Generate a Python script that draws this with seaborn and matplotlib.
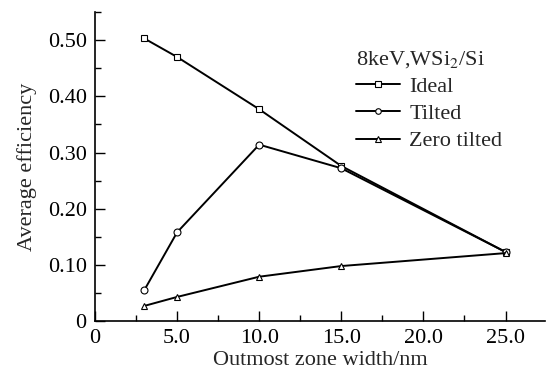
import matplotlib
matplotlib.use("Agg")
import matplotlib.pyplot as plt
import seaborn as sns
import pandas as pd
from matplotlib.ticker import MultipleLocator, FuncFormatter

# Data
widths = [3, 5, 10, 15, 25]
ideal = [0.503, 0.470, 0.377, 0.276, 0.123]
tilted = [0.055, 0.158, 0.314, 0.272, 0.123]
zero_tilted = [0.027, 0.043, 0.079, 0.098, 0.121]
series_names = ["Ideal", "Tilted", "Zero tilted"]

df = pd.concat([
    pd.DataFrame({"width": widths, "eff": vals, "series": name})
    for name, vals in zip(series_names, [ideal, tilted, zero_tilted])
])

sns.set_theme(style="ticks")
plt.rcParams["font.family"] = ["Liberation Serif", "DejaVu Serif"]
plt.rcParams["mathtext.fontset"] = "stix"

fig = plt.figure(figsize=(5.46, 3.76), dpi=100)
ax = fig.add_axes([0.174, 0.146, 0.824, 0.822])

sns.lineplot(
    data=df, x="width", y="eff", style="series",
    markers={"Ideal": "s", "Tilted": "o", "Zero tilted": "^"},
    dashes=False, color="black", linewidth=1.4,
    markersize=5, markerfacecolor="white", markeredgecolor="black",
    markeredgewidth=0.8, ax=ax,
)

ax.set_xlim(0, 27.4)
ax.set_ylim(0, 0.55)
ax.xaxis.set_major_locator(MultipleLocator(5))
ax.xaxis.set_minor_locator(MultipleLocator(2.5))
ax.yaxis.set_major_locator(MultipleLocator(0.1))
ax.yaxis.set_minor_locator(MultipleLocator(0.05))
ax.xaxis.set_major_formatter(FuncFormatter(lambda v, p: "0" if v == 0 else f"{v:.1f}"))
ax.yaxis.set_major_formatter(FuncFormatter(lambda v, p: "0" if abs(v) < 1e-9 else f"{v:.2f}"))
ax.tick_params(which="both", direction="in", labelsize=16, width=1, colors="black")
ax.tick_params(which="major", length=7, pad=6)
ax.tick_params(which="minor", length=4)
sns.despine(ax=ax)
for s in ["left", "bottom"]:
    ax.spines[s].set_color("black")
    ax.spines[s].set_linewidth(1.2)

ax.set_xlabel("Outmost zone width/nm", fontsize=16, labelpad=2)
ax.set_ylabel("Average efficiency", fontsize=16, labelpad=8)

handles, labels = ax.get_legend_handles_labels()
for h in handles:
    h.set_markersize(4)
leg = ax.legend(handles, labels, title="8keV,WSi$_2$/Si", loc="upper left",
                bbox_to_anchor=(0.56, 0.91), frameon=False, fontsize=16,
                title_fontsize=16, handlelength=2.0, handletextpad=0.4,
                labelspacing=0.3, borderaxespad=0)
leg._legend_box.align = "left"

fig.savefig("out.png", dpi=100)
